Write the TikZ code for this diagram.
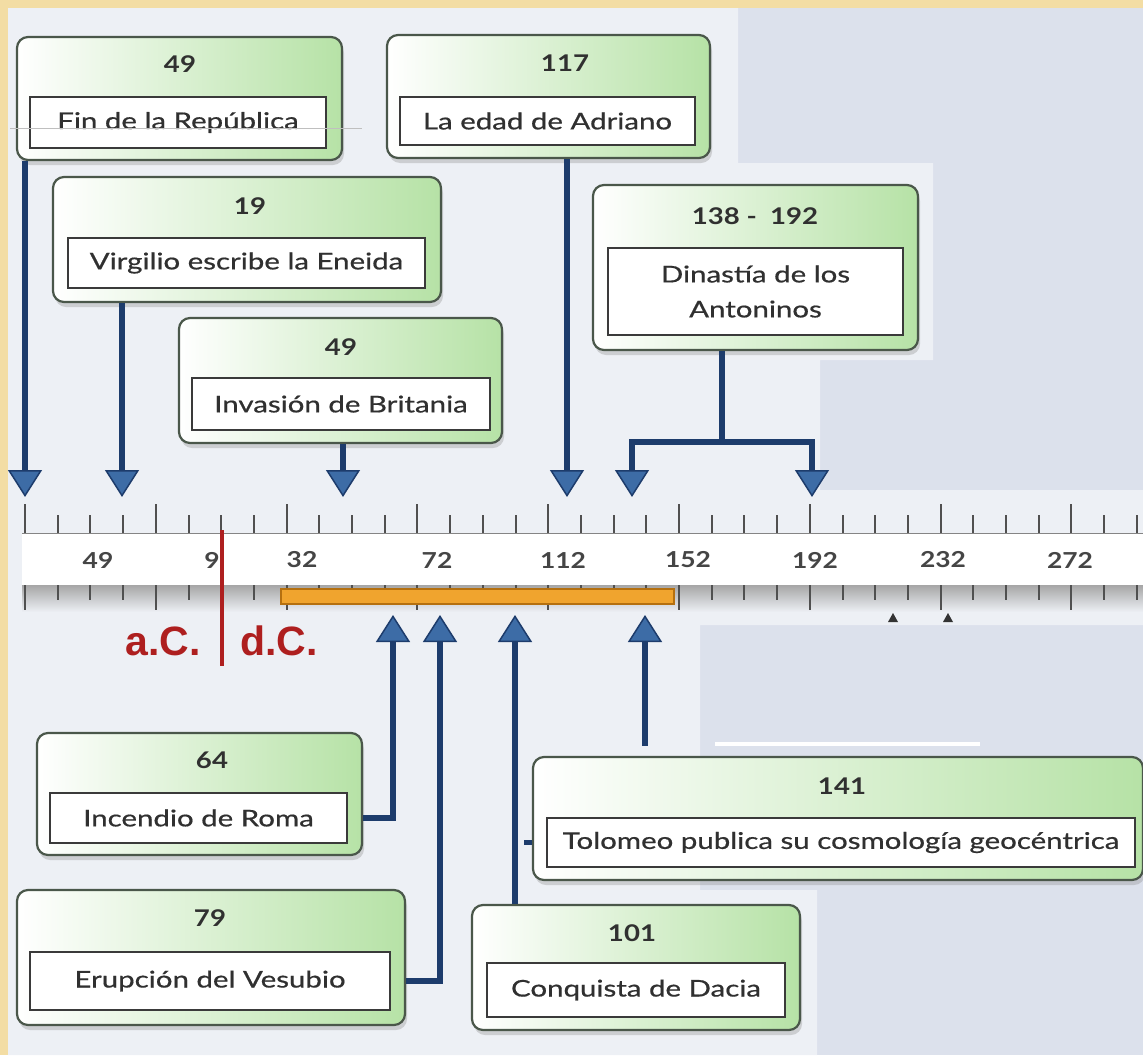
\documentclass[tikz,border=0pt]{standalone}
\usepackage{fontspec}
\setmainfont{Lato}
\newfontfamily\cajafont[FakeStretch=1.28, FakeBold=0.6]{Lato}
\newfontfamily\aniofont[FakeStretch=1.2]{Lato}
\newfontfamily\arialfont{Liberation Sans}
\usepackage{xcolor}
\usetikzlibrary{arrows.meta,shadows}

\definecolor{fondo}{HTML}{DCE1EC}
\definecolor{claro}{HTML}{EDF0F5}
\definecolor{borde}{HTML}{F3DDA4}
\definecolor{verde}{HTML}{B6E2A6}
\definecolor{marco}{HTML}{4A574A}
\definecolor{marcot}{HTML}{3A3A3A}
\definecolor{texto}{HTML}{303030}
\definecolor{azul}{HTML}{1D3C6C}
\definecolor{azulpunta}{HTML}{3D6CA6}
\definecolor{rojo}{HTML}{AE1F1F}
\definecolor{naranja}{HTML}{F0A42E}
\definecolor{naranjab}{HTML}{B5700F}
\definecolor{gris}{HTML}{505050}

\begin{document}
\begin{tikzpicture}[x=1pt, y=-1pt,
  caja/.style={draw=marco, line width=2.2pt, rounded corners=11pt, left color=white, right color=verde,
    drop shadow={opacity=0.3, shadow xshift=2pt, shadow yshift=-5pt}, inner sep=0pt},
  desc/.style={draw=marcot, line width=2pt, fill=white, inner sep=0pt, align=center, text=texto,
    font=\cajafont\fontsize{23}{35}\selectfont},
  anio/.style={text=texto, font=\aniofont\fontsize{23}{26}\selectfont\bfseries},
  regla/.style={text=texto!90, font=\aniofont\fontsize{22}{26}\selectfont\bfseries},
  flecha/.style={draw=azul, line width=6pt, -{Triangle[width=34pt, length=27pt, line width=1.5pt, fill=azulpunta]}},
  conector/.style={draw=azul, line width=6pt},
  marca/.style={draw=gris, line width=2pt},
  era/.style={text=rojo, font=\arialfont\fontsize{41}{44}\selectfont\bfseries}]

  \useasboundingbox (0,0) rectangle (1143,1055);
  \fill[fondo] (0,0) rectangle (1143,1055);
  \fill[claro] (8,8) -- (738,8) -- (738,163) -- (933,163) -- (933,360) -- (820,360) -- (820,490)
    -- (1143,490) -- (1143,625) -- (700,625) -- (700,890) -- (817,890) -- (817,1055) -- (8,1055) -- cycle;
  \fill[white] (715,742) rectangle (980,746);
  \fill[borde] (0,0) rectangle (1143,8);
  \fill[borde] (0,0) rectangle (8,1055);

  % regla
  \fill[white] (22,533) rectangle (1143,585);
  \shade[top color=black!35, bottom color=claro] (22,585) rectangle (1143,612);
  \draw[gris!70, line width=1pt] (22,533) -- (1143,533);
  \foreach \i in {0,...,34}{
    \draw[marca] (25+32.7*\i,515) -- (25+32.7*\i,533);
    \draw[marca] (25+32.7*\i,585) -- (25+32.7*\i,600);
  }
  \foreach \i in {0,4,...,32}{
    \draw[marca] (25+32.7*\i,504) -- (25+32.7*\i,533);
    \draw[marca] (25+32.7*\i,585) -- (25+32.7*\i,610);
  }
  \foreach \n/\x in {49/98, 9/212, 32/302, 72/437, 112/563, 152/688, 192/815, 232/943, 272/1070}
    \node[regla] (r\n) at (\x,560) {\n};
  \fill[black!80] (888,622) -- (898,622) -- (893,613) -- cycle;
  \fill[black!80] (943,622) -- (953,622) -- (948,613) -- cycle;
  \draw[naranjab, line width=2.5pt, fill=naranja] (281,589) rectangle (674,604);
  \draw[rojo, line width=3.5pt] (222,530) -- (222,666);
  \node[era, anchor=east] (ac) at (204,641) {a.C.};
  \node[era, anchor=west] (dc) at (237,641) {d.C.};

  % puntos de la regla
  \coordinate (p49) at (25,497);
  \coordinate (p19) at (122,497);
  \coordinate (p49b) at (343,497);
  \coordinate (p117) at (567,497);
  \coordinate (p138) at (632,497);
  \coordinate (p192) at (812,497);
  \coordinate (rama) at (722,442);
  \coordinate (p64) at (393,615);
  \coordinate (p79) at (440,615);
  \coordinate (p101) at (515,615);
  \coordinate (p141) at (645,615);

  % arriba
  \node[caja, minimum width=325pt, minimum height=123pt] (fin) at (179.5,98.5) {};
  \node[anio] (fin-a) at (180,64) {49};
  \node[desc, minimum width=296pt, minimum height=51pt] (fin-t) at (178,122.5) {Fin de la República};

  \node[caja, minimum width=323pt, minimum height=123pt] (adr) at (548.5,96.5) {};
  \node[anio] (adr-a) at (565,63) {117};
  \node[desc, minimum width=295pt, minimum height=48pt] (adr-t) at (547.5,121) {La edad de Adriano};

  \node[caja, minimum width=388pt, minimum height=125pt] (vir) at (247,239.5) {};
  \node[anio] (vir-a) at (250,206) {19};
  \node[desc, minimum width=357pt, minimum height=50pt] (vir-t) at (246.5,263) {Virgilio escribe la Eneida};

  \node[caja, minimum width=325pt, minimum height=165pt] (din) at (755.5,267.5) {};
  \node[anio] (din-a) at (755,216) {138 -\ \ 192};
  \node[desc, minimum width=295pt, minimum height=87pt] (din-t) at (755.5,291.5) {Dinastía de los\\Antoninos};

  \node[caja, minimum width=323pt, minimum height=125pt] (bri) at (340.5,380.5) {};
  \node[anio] (bri-a) at (341,347) {49};
  \node[desc, minimum width=298pt, minimum height=52pt] (bri-t) at (341,404) {Invasión de Britania};

  % abajo
  \node[caja, minimum width=325pt, minimum height=122pt] (inc) at (199.5,794) {};
  \node[anio] (inc-a) at (212,760) {64};
  \node[desc, minimum width=297pt, minimum height=50pt] (inc-t) at (198.5,818) {Incendio de Roma};

  \node[caja, minimum width=388pt, minimum height=135pt] (eru) at (211,957.5) {};
  \node[anio] (eru-a) at (210,918) {79};
  \node[desc, minimum width=360pt, minimum height=58pt] (eru-t) at (210,981) {Erupción del Vesubio};

  \node[caja, minimum width=328pt, minimum height=125pt] (dac) at (636,967.5) {};
  \node[anio] (dac-a) at (632,933) {101};
  \node[desc, minimum width=298pt, minimum height=54pt] (dac-t) at (636,990) {Conquista de Dacia};

  \node[caja, minimum width=610pt, minimum height=123pt] (tol) at (838,818.5) {};
  \node[anio] (tol-a) at (842,786) {141};
  \node[desc, minimum width=588pt, minimum height=49pt] (tol-t) at (841,842.5) {Tolomeo publica su cosmología geocéntrica};

  \draw[black!25, line width=0.8pt] (10,128) -- (362,128);

  \draw[flecha] (fin.south -| p49) -- (p49);
  \draw[flecha] (vir.south -| p19) -- (p19);
  \draw[flecha] (bri.south -| p49b) -- (p49b);
  \draw[flecha] (adr.south -| p117) -- (p117);
  \draw[conector] (din.south -| rama) -- (rama);
  \draw[flecha] (rama) -| (p138);
  \draw[flecha] (rama) -| (p192);

  \draw[flecha] (inc.east |- inc-t) -| (p64);
  \draw[flecha] (eru.east |- eru-t) -| (p79);
  \draw[flecha] (dac.north -| p101) -- (p101);
  \draw[flecha, shorten <=10pt] (tol.north -| p141) -- (p141);
  \draw[conector, line width=5pt] (tol.west |- tol-t) -- ++(-8,0);
\end{tikzpicture}
\end{document}
